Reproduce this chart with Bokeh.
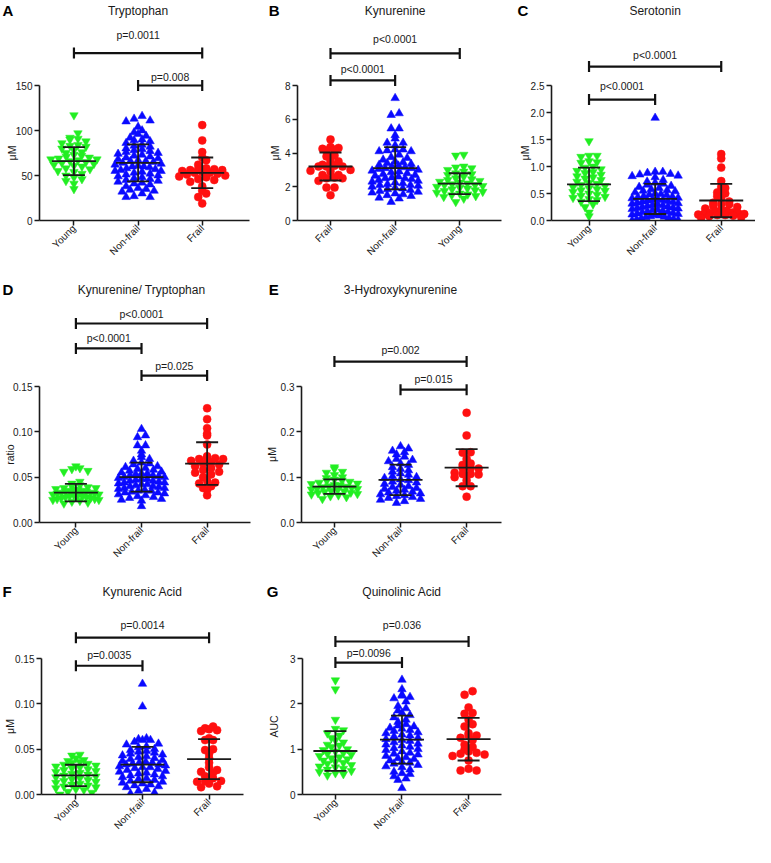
import numpy as np
from math import pi
from bokeh.plotting import figure
from bokeh.models import Range1d, FixedTicker, Label, PrintfTickFormatter
from bokeh.core.properties import value
from bokeh.layouts import row, column
from bokeh.embed import file_html
from bokeh.resources import INLINE

FONT = "Liberation Sans"
INK = "#1a1a1a"
STYLE = {"Young": ("#22ee22", "inverted_triangle", 8.5),
         "Non-frail": ("#0a0aff", "triangle", 8.5),
         "Frail": ("#ff1010", "circle", 8)}

# ---------------- data ----------------
# A Tryptophan (uM)
A_cats = ["Young", "Non-frail", "Frail"]
A_young = [117, 97, 92, 91, 90, 88, 86, 84, 83, 82, 80, 78, 76, 75, 73, 72, 71, 70, 69, 68, 68, 67, 66, 65,
           64, 63, 62, 61, 60, 58, 57, 55, 54, 52, 50, 48, 46, 44, 41, 35]
A_nonfrail = [116, 113, 111, 110, 104, 100, 98, 96, 94, 92, 90, 89, 88, 86, 84, 83, 82, 80, 79, 78, 77, 76, 75,
              74, 73, 72, 71, 70, 69, 68, 67, 66, 66, 65, 64, 63, 62, 61, 60, 60, 59, 58, 57, 56, 55, 55, 54, 53,
              52, 51, 50, 49, 48, 47, 46, 45, 44, 43, 42, 41, 40, 38, 36, 35, 34, 33, 32, 30, 27, 26, 26]
A_frail = [106, 89, 76, 70, 67, 62, 58, 57, 57, 56, 56, 55, 54, 53, 53, 52, 51, 50, 49, 48, 46, 45, 43, 38, 33,
           30, 26, 19]
A_mean = [66, 64, 53]
A_sd = [15.5, 20.5, 17]

# B Kynurenine (uM)
B_cats = ["Frail", "Non-frail", "Young"]
B_frail = [4.8, 4.35, 4.3, 4.25, 4.2, 4.15, 3.85, 3.8, 3.5, 3.5, 3.3, 3.25, 3.2, 3.2, 3.2, 3.0, 2.95, 2.9, 2.7,
           2.7, 2.55, 2.5, 2.5, 2.35, 1.95, 1.95, 1.5]
B_nonfrail = [7.25, 6.35, 6.25, 5.45, 5.45, 5.05, 4.85, 4.6, 4.6, 4.45, 4.2, 4.2, 4.15, 4.1, 4.1, 3.9, 3.75, 3.7,
              3.6, 3.5, 3.45, 3.4, 3.35, 3.3, 3.25, 3.2, 3.15, 3.1, 3.1, 3.05, 3.0, 2.95, 2.9, 2.85, 2.8, 2.75,
              2.7, 2.65, 2.6, 2.55, 2.5, 2.5, 2.45, 2.4, 2.35, 2.3, 2.25, 2.2, 2.15, 2.1, 2.1, 2.05, 2.0, 1.95,
              1.9, 1.85, 1.8, 1.75, 1.7, 1.65, 1.6, 1.55, 1.5, 1.45, 1.35, 1.3, 1.1]
B_young = [3.9, 3.85, 3.2, 3.15, 3.1, 3.0, 2.9, 2.8, 2.75, 2.7, 2.6, 2.5, 2.45, 2.4, 2.35, 2.3, 2.25, 2.2, 2.15,
           2.1, 2.1, 2.05, 2.0, 1.95, 1.9, 1.85, 1.8, 1.75, 1.7, 1.65, 1.6, 1.55, 1.5, 1.45, 1.4, 1.3, 1.1]
B_mean = [3.2, 3.1, 2.18]
B_sd = [0.83, 1.25, 0.62]

# C Serotonin (uM)
C_cats = ["Young", "Non-frail", "Frail"]
C_young = [1.47, 1.2, 1.2, 1.18, 1.1, 1.08, 1.07, 1.0, 0.98, 0.95, 0.92, 0.9, 0.88, 0.85, 0.82, 0.8, 0.78, 0.75,
           0.72, 0.7, 0.68, 0.66, 0.64, 0.62, 0.6, 0.58, 0.56, 0.55, 0.53, 0.5, 0.48, 0.46, 0.44, 0.42, 0.4, 0.38,
           0.35, 0.3, 0.25, 0.15, 0.08]
C_nonfrail = [1.9, 0.9, 0.9, 0.88, 0.86, 0.85, 0.83, 0.82, 0.8, 0.75, 0.72, 0.7, 0.68, 0.66, 0.64, 0.62, 0.6,
              0.58, 0.56, 0.55, 0.54, 0.52, 0.5, 0.49, 0.48, 0.47, 0.45, 0.44, 0.43, 0.42, 0.41, 0.4, 0.39, 0.38,
              0.37, 0.36, 0.35, 0.34, 0.33, 0.32, 0.31, 0.3, 0.29, 0.28, 0.27, 0.26, 0.25, 0.24, 0.23, 0.22, 0.21,
              0.2, 0.19, 0.18, 0.17, 0.16, 0.15, 0.14, 0.13, 0.12, 0.11, 0.1, 0.09, 0.08, 0.07, 0.06, 0.05, 0.04,
              0.03, 0.02, 0.01, 0.0]
C_frail = [1.23, 1.15, 0.98, 0.73, 0.62, 0.6, 0.52, 0.5, 0.45, 0.4, 0.35, 0.33, 0.3, 0.3, 0.27, 0.25, 0.22, 0.2,
           0.18, 0.17, 0.15, 0.14, 0.13, 0.12, 0.12, 0.11, 0.1, 0.1, 0.09, 0.08, 0.06, 0.05]
C_mean = [0.67, 0.40, 0.37]
C_sd = [0.31, 0.28, 0.31]

# D Kynurenine/Tryptophan (ratio)
D_cats = ["Young", "Non-frail", "Frail"]
D_young = [0.062, 0.060, 0.059, 0.057, 0.056, 0.045, 0.043, 0.041, 0.040, 0.039, 0.038, 0.038, 0.037, 0.036,
           0.036, 0.035, 0.035, 0.034, 0.034, 0.033, 0.033, 0.032, 0.032, 0.031, 0.031, 0.030, 0.030, 0.029,
           0.029, 0.028, 0.028, 0.027, 0.027, 0.026, 0.026, 0.025, 0.025, 0.024, 0.023, 0.022, 0.021]
D_nonfrail = [0.103, 0.096, 0.094, 0.085, 0.085, 0.079, 0.075, 0.072, 0.070, 0.068, 0.066, 0.065, 0.064, 0.062,
              0.061, 0.060, 0.059, 0.058, 0.057, 0.056, 0.055, 0.054, 0.054, 0.053, 0.052, 0.052, 0.051, 0.050,
              0.050, 0.049, 0.048, 0.048, 0.047, 0.046, 0.046, 0.045, 0.044, 0.044, 0.043, 0.042, 0.042, 0.041,
              0.040, 0.040, 0.039, 0.038, 0.038, 0.037, 0.036, 0.035, 0.035, 0.034, 0.033, 0.033, 0.032, 0.031,
              0.030, 0.029, 0.028, 0.027, 0.026, 0.025, 0.024, 0.018]
D_frail = [0.126, 0.114, 0.104, 0.098, 0.096, 0.086, 0.073, 0.071, 0.071, 0.070, 0.070, 0.068, 0.066, 0.065,
           0.064, 0.062, 0.060, 0.058, 0.056, 0.055, 0.053, 0.050, 0.046, 0.044, 0.043, 0.040, 0.038, 0.036, 0.030]
D_mean = [0.033, 0.050, 0.065]
D_sd = [0.0097, 0.016, 0.0235]

# E 3-Hydroxykynurenine (uM)
E_cats = ["Young", "Non-frail", "Frail"]
E_young = [0.122, 0.118, 0.112, 0.110, 0.105, 0.100, 0.098, 0.095, 0.093, 0.092, 0.090, 0.088, 0.086, 0.085,
           0.083, 0.082, 0.080, 0.079, 0.078, 0.077, 0.075, 0.074, 0.073, 0.072, 0.070, 0.069, 0.068, 0.066,
           0.065, 0.063, 0.062, 0.060, 0.058, 0.056, 0.052]
E_nonfrail = [0.168, 0.163, 0.158, 0.155, 0.150, 0.145, 0.140, 0.138, 0.135, 0.130, 0.127, 0.122, 0.118, 0.115,
              0.112, 0.108, 0.105, 0.102, 0.100, 0.098, 0.095, 0.093, 0.090, 0.088, 0.085, 0.083, 0.080, 0.078,
              0.076, 0.074, 0.072, 0.070, 0.068, 0.066, 0.064, 0.062, 0.060, 0.058, 0.056, 0.054, 0.052, 0.050,
              0.047, 0.043]
E_frail = [0.242, 0.192, 0.155, 0.154, 0.140, 0.130, 0.127, 0.120, 0.120, 0.119, 0.110, 0.107, 0.107, 0.106,
           0.100, 0.093, 0.080, 0.080, 0.057]
E_mean = [0.079, 0.094, 0.121]
E_sd = [0.016, 0.0335, 0.041]

# F Kynurenic Acid (uM)
F_cats = ["Young", "Non-frail", "Frail"]
F_young = [0.044, 0.043, 0.040, 0.038, 0.037, 0.036, 0.035, 0.034, 0.033, 0.032, 0.031, 0.030, 0.029, 0.028,
           0.027, 0.026, 0.025, 0.024, 0.023, 0.022, 0.021, 0.020, 0.019, 0.018, 0.017, 0.016, 0.015, 0.014,
           0.013, 0.012, 0.011, 0.010, 0.009, 0.008, 0.007, 0.006, 0.005, 0.003, 0.002, 0.000]
F_nonfrail = [0.122, 0.097, 0.062, 0.061, 0.060, 0.060, 0.058, 0.056, 0.055, 0.053, 0.052, 0.050, 0.049, 0.048,
              0.047, 0.046, 0.045, 0.044, 0.043, 0.042, 0.041, 0.040, 0.039, 0.038, 0.037, 0.036, 0.035, 0.035,
              0.034, 0.033, 0.033, 0.032, 0.031, 0.030, 0.030, 0.029, 0.028, 0.027, 0.026, 0.025, 0.024, 0.023,
              0.022, 0.021, 0.020, 0.019, 0.018, 0.017, 0.016, 0.015, 0.014, 0.013, 0.012, 0.011, 0.010, 0.009,
              0.008, 0.006, 0.004, 0.002, 0.001]
F_frail = [0.075, 0.073, 0.072, 0.071, 0.070, 0.062, 0.060, 0.060, 0.050, 0.049, 0.045, 0.040, 0.035, 0.030,
           0.027, 0.025, 0.024, 0.020, 0.018, 0.015, 0.015, 0.014, 0.012, 0.009, 0.008]
F_mean = [0.021, 0.033, 0.039]
F_sd = [0.0118, 0.0195, 0.022]

# G Quinolinic Acid (AUC)
G_cats = ["Young", "Non-frail", "Frail"]
G_young = [2.52, 2.32, 1.65, 1.45, 1.42, 1.35, 1.30, 1.25, 1.20, 1.15, 1.10, 1.08, 1.05, 1.00, 0.98, 0.95, 0.92,
           0.90, 0.88, 0.85, 0.82, 0.80, 0.78, 0.75, 0.72, 0.70, 0.68, 0.65, 0.62, 0.60, 0.57, 0.55, 0.52, 0.50,
           0.47, 0.45, 0.42]
G_nonfrail = [2.53, 2.32, 2.20, 2.18, 2.15, 2.12, 2.05, 1.95, 1.90, 1.85, 1.80, 1.75, 1.70, 1.65, 1.60, 1.55,
              1.52, 1.50, 1.47, 1.45, 1.42, 1.40, 1.37, 1.35, 1.32, 1.30, 1.28, 1.25, 1.22, 1.20, 1.18, 1.15,
              1.12, 1.10, 1.08, 1.05, 1.02, 1.00, 0.98, 0.95, 0.92, 0.90, 0.88, 0.85, 0.82, 0.80, 0.78, 0.75,
              0.72, 0.70, 0.68, 0.65, 0.62, 0.60, 0.55, 0.50, 0.47, 0.45, 0.40, 0.35, 0.32, 0.14]
G_frail = [2.28, 2.20, 1.92, 1.80, 1.78, 1.65, 1.55, 1.50, 1.35, 1.30, 1.30, 1.25, 1.20, 1.10, 1.05, 1.00, 0.95,
           0.92, 0.90, 0.88, 0.85, 0.75, 0.57, 0.53, 0.53]
G_mean = [0.96, 1.21, 1.22]
G_sd = [0.44, 0.53, 0.47]

# ---------------- layout helpers ----------------
SX = 755 / 771
COL_EDGES = [0, 260, 516, 771]
ROW_TOPS = [8, 281, 583, 855]      # page y of each row of panels
ROW_SHIFT = [8, -6, -21]            # reference y -> page y offset per row
BOTTOM = 53                         # space under the x axis


def pgx(r):
    return 8 + r * SX


COLX = [round(pgx(c)) for c in COL_EDGES]


def row_layout(vals, ppy, bin_px=5.5, gap=8.0, maxw=46.0):
    """GraphPad-like scatter: values binned into rows, spread side by side."""
    ys = np.asarray(vals, float) * ppy
    b = np.floor(ys / bin_px).astype(int)
    off = np.zeros(len(ys))
    for bb in np.unique(b):
        idx = np.where(b == bb)[0]
        idx = idx[np.argsort(ys[idx], kind="stable")]
        n = len(idx)
        if n > 1:
            s = min(gap, maxw / (n - 1))
            order = np.arange(n)
            pos = (order - (n - 1) / 2.0) * s
            perm = np.concatenate([order[0::2], order[1::2][::-1]])
            off[idx[perm]] = pos
    return off


def panel(col, rowi, geom, letter, letter_ref, title, title_ref_y, ylabel, ylabel_ref_x,
          cats, groups, means, sds, yticks, fmt, brackets):
    axis_left, cat1, cat3, axis_right, ytop, ybot, ymax = geom
    width = COLX[col + 1] - COLX[col]
    height = ROW_TOPS[rowi + 1] - ROW_TOPS[rowi]
    x0 = COLX[col]
    shift = ROW_SHIFT[rowi] + 0.0
    top = ROW_TOPS[rowi]

    def pgy(r):
        return r + shift

    L = round(pgx(axis_left) - x0)
    R = min(width, round(pgx(axis_right) - x0))
    Bl = height - BOTTOM
    zero_page = top + Bl
    ppy = (ybot - ytop) / ymax
    ppx = (pgx(cat3) - pgx(cat1)) / 2.0
    xs = 1 - (pgx(cat1) - (x0 + L)) / ppx
    xe = xs + (R - L) / ppx
    ye = Bl / ppy

    def dx(rx):
        return 1 + (pgx(rx) - pgx(cat1)) / ppx

    def dy(ry):
        return (zero_page - pgy(ry)) / ppy

    p = figure(width=width, height=height, x_range=Range1d(xs, xe), y_range=Range1d(0, ye),
               output_backend="svg", toolbar_location=None,
               min_border_left=L, min_border_right=width - R, min_border_top=0,
               min_border_bottom=BOTTOM)
    p.outline_line_color = None
    p.grid.visible = False
    p.background_fill_color = "white"
    p.border_fill_color = "white"

    xa = p.xaxis[0]
    xa.ticker = FixedTicker(ticks=[1, 2, 3])
    xa.major_label_overrides = {1: cats[0], 2: cats[1], 3: cats[2]}
    xa.major_label_orientation = pi / 4
    xa.major_label_text_font = FONT
    xa.major_label_text_font_size = "10px"
    xa.major_label_text_color = INK
    xa.major_label_standoff = 1
    xa.major_tick_out = 5
    xa.major_tick_in = 0
    xa.minor_tick_out = 0
    xa.minor_tick_in = 0
    xa.axis_line_width = 1.6
    xa.axis_line_color = INK
    xa.major_tick_line_color = INK
    xa.major_tick_line_width = 1.5

    ya = p.yaxis[0]
    ya.ticker = FixedTicker(ticks=yticks)
    ya.formatter = PrintfTickFormatter(format=fmt)
    ya.bounds = (0, ymax)
    ya.major_label_text_font = FONT
    ya.major_label_text_font_size = "10px"
    ya.major_label_text_color = INK
    ya.major_label_standoff = 2
    ya.major_tick_out = 5
    ya.major_tick_in = 0
    ya.minor_tick_out = 0
    ya.minor_tick_in = 0
    ya.axis_line_width = 1.6
    ya.axis_line_color = INK
    ya.major_tick_line_color = INK
    ya.major_tick_line_width = 1.5

    for k, (cat, vals) in enumerate(zip(cats, groups)):
        color, marker, size = STYLE[cat]
        off = row_layout(vals, ppy)
        xv = (k + 1) + off / ppx
        p.scatter(xv, vals, marker=marker, size=size, fill_color=color, line_color=color, line_width=0.5)

    cx = np.array([1, 2, 3], float)
    mn = np.array(means, float)
    sd = np.array(sds, float)
    hw = 22 / ppx
    cw = 11 / ppx
    p.segment(cx - hw, mn, cx + hw, mn, line_color=INK, line_width=1.8)
    p.segment(cx, mn - sd, cx, mn + sd, line_color=INK, line_width=1.8)
    p.segment(cx - cw, mn + sd, cx + cw, mn + sd, line_color=INK, line_width=1.8)
    p.segment(cx - cw, mn - sd, cx + cw, mn - sd, line_color=INK, line_width=1.8)

    cap = 5.5 / ppy
    for (i, j, yb, txt, yt) in brackets:
        p.segment([i, i, j], [yb, yb - cap, yb - cap], [j, i, j], [yb, yb + cap, yb + cap],
                  line_color="#111111", line_width=2.2)
        p.add_layout(Label(x=(i + j) / 2, y=yt, text=txt, text_align="center", text_baseline="middle",
                           text_font=FONT, text_font_size="10.5px", text_color=INK))

    p.add_layout(Label(x=2, y=dy(title_ref_y), text=title, text_align="center", text_baseline="middle",
                       text_font=FONT, text_font_size="12px", text_color=INK))

    # texts that sit left of the plotting frame: drawn at overlay level
    p.text(x=[dx(letter_ref[0])], y=[dy(letter_ref[1])], text=[letter], text_align="left",
           text_baseline="middle", text_font=value(FONT), text_font_size=value("15px"),
           text_font_style="bold", text_color="#000000", level="overlay")
    p.text(x=[dx(ylabel_ref_x)], y=[ymax / 2], text=[ylabel], angle=pi / 2, text_align="center",
           text_baseline="middle", text_font=value(FONT), text_font_size=value("10.5px"),
           text_color=INK, level="overlay")
    return p


pA = panel(0, 0, (40, 75, 206, 254, 85, 220, 150), "A", (2, 10), "Tryptophan", 10, "\u03bcM", 11.5,
           A_cats, [A_young, A_nonfrail, A_frail], A_mean, A_sd, [0, 50, 100, 150], "%d",
           [(1, 3, 186, "p=0.0011", 206), (2, 3, 150, "p=0.008", 160)])
pB = panel(1, 0, (303, 337, 469, 512, 85, 220, 8), "B", (274, 10), "Kynurenine", 10, "\u03bcM", 280,
           B_cats, [B_frail, B_nonfrail, B_young], B_mean, B_sd, [0, 2, 4, 6, 8], "%d",
           [(1, 3, 9.9, "p<0.0001", 10.73), (1, 2, 8.3, "p<0.0001", 8.95)])
pC = panel(2, 0, (563, 601, 736, 771, 85, 220, 2.5), "C", (528, 10), "Serotonin", 10, "\u03bcM", 536,
           C_cats, [C_young, C_nonfrail, C_frail], C_mean, C_sd, [0, 0.5, 1.0, 1.5, 2.0, 2.5], "%.1f",
           [(1, 3, 2.85, "p<0.0001", 3.056), (1, 2, 2.24, "p<0.0001", 2.5)])
pD = panel(0, 1, (40, 77, 211, 255, 400, 536, 0.15), "D", (2, 303), "Kynurenine/ Tryptophan", 303,
           "ratio", 9.5, D_cats, [D_young, D_nonfrail, D_frail], D_mean, D_sd, [0, 0.05, 0.10, 0.15], "%.2f",
           [(1, 3, 0.2195, "p<0.0001", 0.2305), (1, 2, 0.192, "p<0.0001", 0.204),
            (2, 3, 0.162, "p=0.025", 0.173)])
pE = panel(1, 1, (307, 341, 476, 512, 399, 535, 0.3), "E", (274, 303), "3-Hydroxykynurenine", 303,
           "\u03bcM", 277, E_cats, [E_young, E_nonfrail, E_frail], E_mean, E_sd, [0, 0.1, 0.2, 0.3], "%.1f",
           [(1, 3, 0.355, "p=0.002", 0.3816), (2, 3, 0.293, "p=0.015", 0.3176)])
pF = panel(0, 2, (42, 77, 213, 248, 687, 823, 0.15), "F", (2, 620), "Kynurenic Acid", 620,
           "\u03bcM", 10, F_cats, [F_young, F_nonfrail, F_frail], F_mean, F_sd, [0, 0.05, 0.10, 0.15], "%.2f",
           [(1, 3, 0.173, "p=0.0014", 0.1875), (1, 2, 0.142, "p=0.0035", 0.1544)])
pG = panel(1, 2, (308, 342, 478, 512, 684, 820, 3), "G", (272, 620), "Quinolinic Acid", 620,
           "AUC", 279, G_cats, [G_young, G_nonfrail, G_frail], G_mean, G_sd, [0, 1, 2, 3], "%d",
           [(1, 3, 3.375, "p=0.036", 3.728), (1, 2, 2.91, "p=0.0096", 3.132)])

layout = column(row(pA, pB, pC), row(pD, pE), row(pF, pG))
open("out.html", "w").write(file_html(layout, INLINE))
